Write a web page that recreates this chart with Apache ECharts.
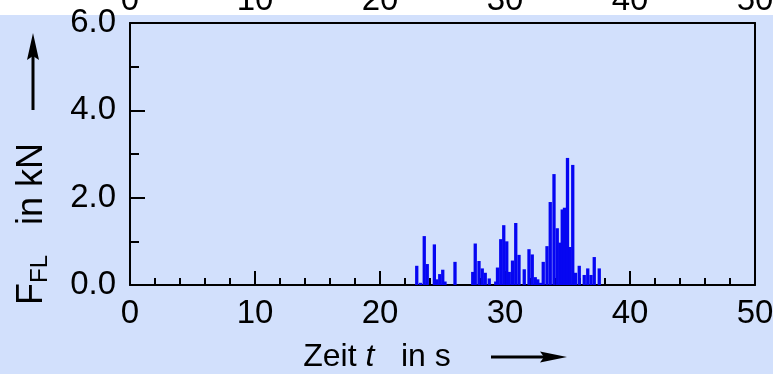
<!DOCTYPE html>
<html>
<head>
<meta charset="utf-8">
<script src="https://cdn.jsdelivr.net/npm/echarts@6/dist/echarts.min.js"></script>
<style>
  html, body { margin: 0; padding: 0; background: #ffffff; }
  #chart {
    width: 773px;
    height: 374px;
    background: linear-gradient(#ffffff 0px, #ffffff 15px, #d2e0fc 15px, #d2e0fc 100%);
  }
</style>
</head>
<body>
<div id="chart"></div>
<script>
// Measured pull force F_FL over time t
const times = [
  22.94, 23.24, 23.54, 23.78, 24.35, 24.56, 24.78, 25.02, 25.20, 26.00,
  27.42, 27.62, 27.92, 28.18, 28.42, 28.74, 29.26, 29.40, 29.66, 29.90,
  30.14, 30.34, 30.60, 30.86, 31.12, 31.54, 31.92, 32.18, 32.42, 32.62,
  32.84, 33.06, 33.36, 33.62, 33.92, 34.18, 34.40, 34.58, 34.76, 35.00,
  35.20, 35.42, 35.64, 35.94, 36.34, 36.62, 36.88, 37.14, 37.54
];
const forces = [
  0.44, 0.05, 1.12, 0.48, 0.93, 0.13, 0.25, 0.35, 0.08, 0.53,
  0.30, 0.95, 0.55, 0.38, 0.28, 0.15, 0.08, 0.40, 1.05, 1.37,
  1.00, 0.30, 0.56, 1.42, 0.69, 0.36, 0.82, 0.70, 0.18, 0.13,
  0.05, 0.53, 0.89, 1.90, 2.54, 1.30, 0.97, 1.73, 1.77, 2.91,
  0.87, 2.75, 0.28, 0.44, 0.23, 0.38, 0.23, 0.64, 0.38
];
const xTicks = [0, 10, 20, 30, 40, 50];
const yTicks = [0, 2, 4, 6];

const FONT = '"Liberation Sans", Arial, Helvetica, sans-serif';
const INK = '#000000';

const chart = echarts.init(document.getElementById('chart'), null, { renderer: 'canvas' });

const xMin = xTicks[0], xMax = xTicks[xTicks.length - 1];
const xStep = xTicks[1] - xTicks[0];
const yMin = yTicks[0], yMax = yTicks[yTicks.length - 1];
const yStep = yTicks[1] - yTicks[0];

const tickLabel = { color: INK, fontFamily: FONT, fontSize: 33 };

chart.setOption({
  backgroundColor: 'transparent',
  animation: false,
  grid: {
    left: 130, right: 18, top: 23, bottom: 89,
    containLabel: false,
    outerBoundsMode: 'none'
  },
  xAxis: [
    {
      type: 'value', min: xMin, max: xMax, interval: xStep,
      position: 'bottom',
      axisLine: { show: true, onZero: false, lineStyle: { color: INK, width: 2 } },
      axisTick: { show: true, inside: true, length: 14, lineStyle: { color: INK, width: 2 } },
      minorTick: { show: true, splitNumber: 5, length: 7, lineStyle: { color: INK, width: 2 } },
      splitLine: { show: false },
      axisLabel: Object.assign({ margin: 12 }, tickLabel)
    },
    {
      type: 'value', min: xMin, max: xMax, interval: xStep,
      position: 'top',
      axisLine: { show: true, onZero: false, lineStyle: { color: INK, width: 2 } },
      axisTick: { show: false },
      splitLine: { show: false },
      axisLabel: Object.assign({ margin: 6 }, tickLabel)
    }
  ],
  yAxis: [
    {
      type: 'value', min: yMin, max: yMax, interval: yStep,
      position: 'left',
      axisLine: { show: true, onZero: false, lineStyle: { color: INK, width: 2 } },
      axisTick: { show: true, inside: true, length: 15, lineStyle: { color: INK, width: 2 } },
      minorTick: { show: true, splitNumber: 2, length: 9, lineStyle: { color: INK, width: 2 } },
      splitLine: { show: false },
      axisLabel: Object.assign({ margin: 14, formatter: v => v.toFixed(1) }, tickLabel)
    },
    {
      type: 'value', min: yMin, max: yMax, interval: yStep,
      position: 'right',
      axisLine: { show: true, onZero: false, lineStyle: { color: INK, width: 2 } },
      axisTick: { show: false },
      axisLabel: { show: false },
      splitLine: { show: false }
    }
  ],
  series: [
    {
      type: 'bar',
      xAxisIndex: 0,
      yAxisIndex: 0,
      barWidth: 3.3,
      itemStyle: { color: '#0606f2' },
      data: times.map((t, i) => [t, forces[i]])
    }
  ],
  graphic: [
    // x-axis title with arrow
    {
      type: 'text',
      x: 377, y: 357,
      style: {
        text: '{n|Zeit }{i|t}{n|   in s}',
        align: 'center',
        verticalAlign: 'middle',
        fill: INK,
        rich: {
          n: { fontFamily: FONT, fontSize: 32, fill: INK },
          i: { fontFamily: FONT, fontSize: 32, fontStyle: 'italic', fill: INK }
        }
      }
    },
    {
      type: 'line',
      shape: { x1: 491, y1: 357, x2: 548, y2: 357 },
      style: { stroke: INK, lineWidth: 3 }
    },
    {
      type: 'polygon',
      shape: { points: [[567, 357], [540, 351.5], [544, 357], [540, 362.5]] },
      style: { fill: INK }
    },
    // y-axis title with arrow
    {
      type: 'text',
      x: 32, y: 224,
      rotation: Math.PI / 2,
      style: {
        text: '{f|F}{s|FL}{n|   in kN}',
        align: 'center',
        verticalAlign: 'middle',
        fill: INK,
        rich: {
          f: { fontFamily: FONT, fontSize: 36, fill: INK },
          s: { fontFamily: FONT, fontSize: 24, fill: INK, padding: [16, 0, 0, 0] },
          n: { fontFamily: FONT, fontSize: 36, fill: INK }
        }
      }
    },
    {
      type: 'line',
      shape: { x1: 33, y1: 110, x2: 33, y2: 52 },
      style: { stroke: INK, lineWidth: 3 }
    },
    {
      type: 'polygon',
      shape: { points: [[33, 33], [27, 60], [33, 56], [39, 60]] },
      style: { fill: INK }
    }
  ]
});
</script>
</body>
</html>
